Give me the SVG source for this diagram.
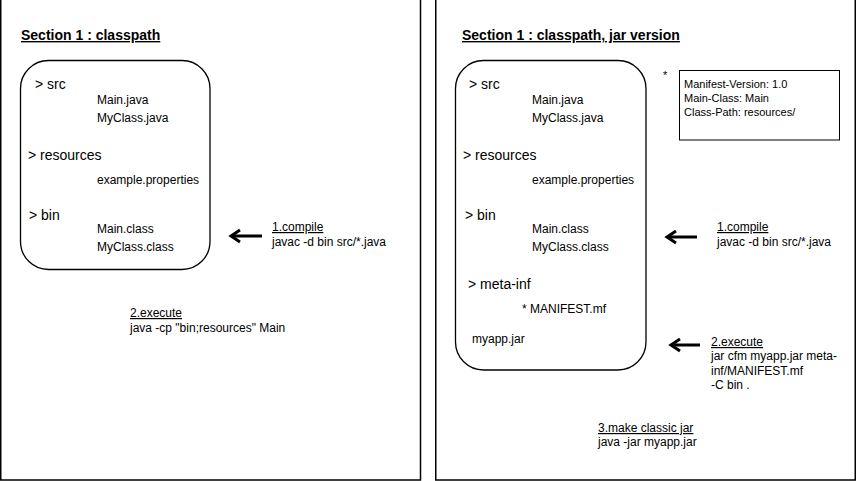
<svg xmlns="http://www.w3.org/2000/svg" width="856" height="481" viewBox="0 0 856 481">
<style>
text{font-family:"Liberation Sans",Arial,sans-serif;fill:#000}
.t{font-size:14px;font-weight:bold;text-decoration:underline}
.f{font-size:14px}
.s{font-size:12px}
.m{font-size:11px}
.u{text-decoration:underline}
.panel{fill:#fff;stroke:#000;stroke-width:1.5}
.box{fill:none;stroke:#000;stroke-width:1.3}
.arrow{fill:none;stroke:#000;stroke-width:3;marker-end:url(#open)}
</style>
<defs>
<marker id="open" markerUnits="userSpaceOnUse" markerWidth="16" markerHeight="16" viewBox="0 0 16 16" refX="12" refY="8" orient="auto">
<path d="M3,2 L12,8 L3,14" fill="none" stroke="#000" stroke-width="3"/>
</marker>
</defs>
<rect width="856" height="481" fill="#fff"/>
<g id="panel-left">
<rect class="panel" x="0.75" y="-2" width="419.75" height="482"/>
<text class="t" x="21" y="40">Section 1 : classpath</text>
</g>
<g id="panel-right">
<rect class="panel" x="435.75" y="-2" width="419.5" height="482"/>
<text class="t" x="462" y="40">Section 1 : classpath, jar version</text>
</g>
<g id="tree-left">
<rect class="box" x="20.5" y="60.5" width="189.5" height="209" rx="28" ry="28"/>
<text class="f" x="35" y="89">&gt; src</text>
<text class="s" x="97" y="104">Main.java</text>
<text class="s" x="97" y="122">MyClass.java</text>
<text class="f" x="28" y="160">&gt; resources</text>
<text class="s" x="97" y="184">example.properties</text>
<text class="f" x="29" y="220">&gt; bin</text>
<text class="s" x="97" y="233">Main.class</text>
<text class="s" x="97" y="251">MyClass.class</text>
</g>
<g id="compile-left">
<text class="s u" x="272" y="231">1.compile</text>
<text class="s" x="272" y="246">javac -d bin src/*.java</text>
</g>
<g id="execute-left">
<text class="s u" x="130" y="317">2.execute</text>
<text class="s" x="130" y="332">java -cp "bin;resources" Main</text>
</g>
<g id="tree-right">
<rect class="box" x="455.5" y="60.5" width="190.5" height="309.5" rx="28" ry="28"/>
<text class="f" x="469" y="89">&gt; src</text>
<text class="s" x="532" y="104">Main.java</text>
<text class="s" x="532" y="122">MyClass.java</text>
<text class="f" x="463" y="160">&gt; resources</text>
<text class="s" x="532" y="184">example.properties</text>
<text class="f" x="465" y="220">&gt; bin</text>
<text class="s" x="532" y="233">Main.class</text>
<text class="s" x="532" y="251">MyClass.class</text>
<text class="f" x="468" y="289">&gt; meta-inf</text>
<text class="s" x="522" y="313">* MANIFEST.mf</text>
<text class="s" x="472" y="343">myapp.jar</text>
</g>
<g id="manifest">
<text class="m" x="663" y="79">*</text>
<rect x="679.5" y="70.5" width="160" height="69.5" fill="none" stroke="#000" stroke-width="1"/>
<text class="m" x="684" y="88">Manifest-Version: 1.0</text>
<text class="m" x="684" y="102">Main-Class: Main</text>
<text class="m" x="684" y="116">Class-Path: resources/</text>
</g>
<g id="compile-right">
<text class="s u" x="717" y="231">1.compile</text>
<text class="s" x="717" y="246">javac -d bin src/*.java</text>
</g>
<g id="execute-right">
<text class="s u" x="711" y="346">2.execute</text>
<text class="s" x="711" y="360">jar cfm myapp.jar meta-</text>
<text class="s" x="711" y="374.5">inf/MANIFEST.mf</text>
<text class="s" x="711" y="389">-C bin .</text>
</g>
<g id="make-jar">
<text class="s u" x="598" y="432">3.make classic jar</text>
<text class="s" x="598" y="446">java -jar myapp.jar</text>
</g>
<g id="connectors">
<line class="arrow" x1="262" y1="236" x2="231" y2="236"/>
<line class="arrow" x1="697" y1="237" x2="667" y2="237"/>
<line class="arrow" x1="700" y1="345" x2="671" y2="345"/>
</g>
</svg>
